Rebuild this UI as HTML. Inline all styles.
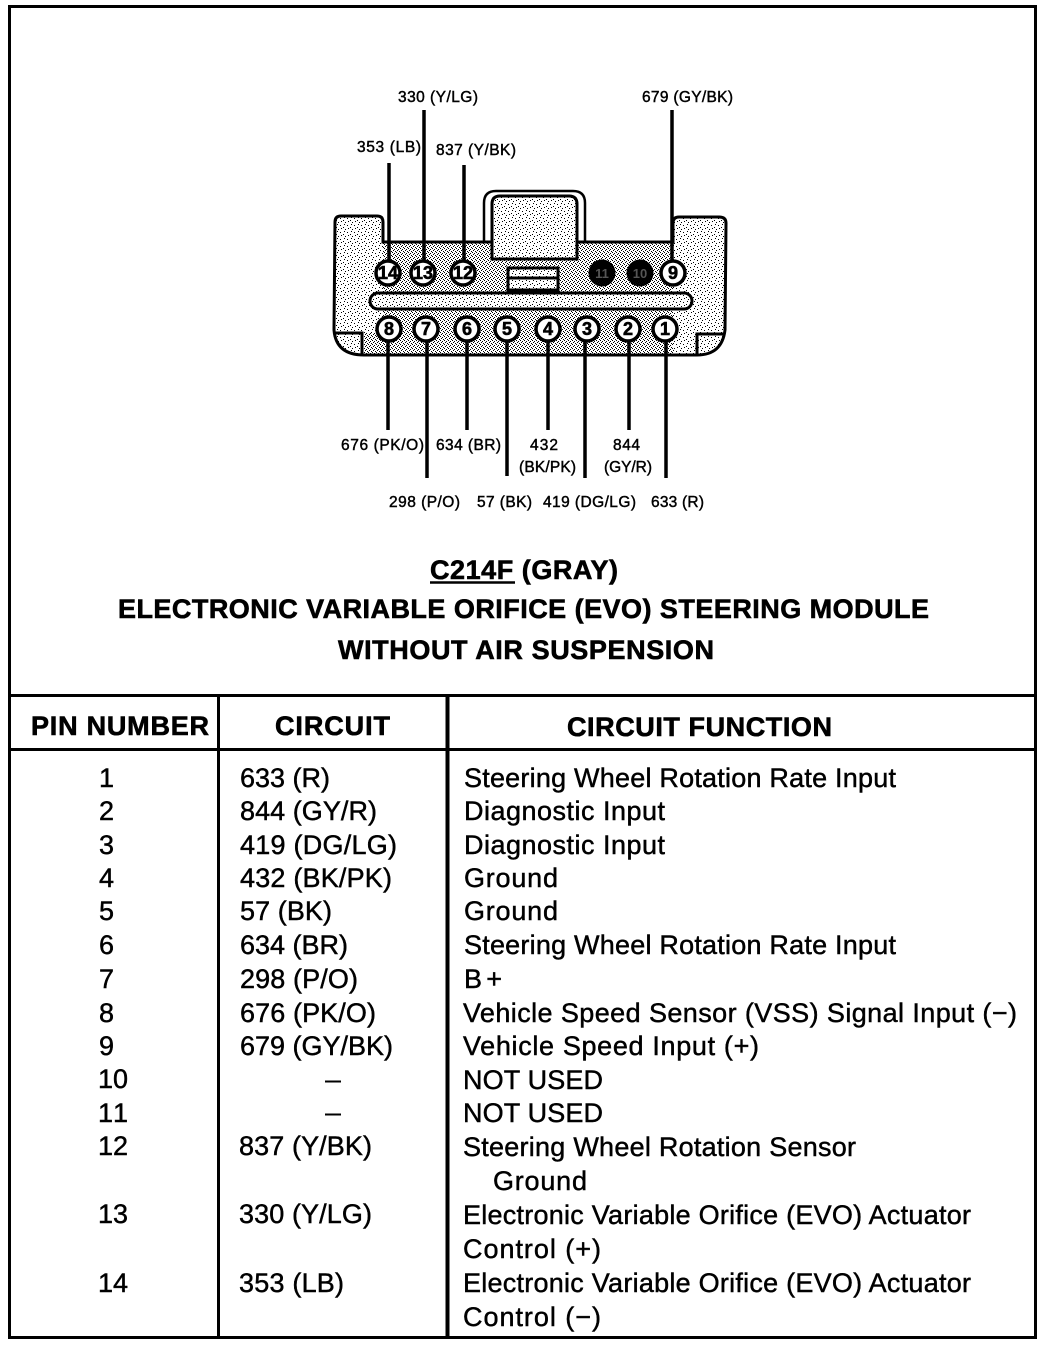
<!DOCTYPE html>
<html><head><meta charset="utf-8"><style>
html,body{margin:0;padding:0;background:#fff}
svg{display:block}
text{font-family:"Liberation Sans",sans-serif;fill:#000;stroke:#000;stroke-width:.45}
.b{font-size:27px}
.s{font-size:15.5px;stroke-width:.45}
.h{font-size:27px;font-weight:bold;stroke-width:.6}
.n{font-size:18px;font-weight:bold;text-anchor:middle;stroke-width:.6}
</style></head><body>
<svg width="1056" height="1346" viewBox="0 0 1056 1346" xmlns="http://www.w3.org/2000/svg">
<defs>
<pattern id="d" width="4" height="4" patternUnits="userSpaceOnUse">
<rect width="4" height="4" fill="#fff"/><rect x="0" y="0" width="1" height="1" fill="#000"/><rect x="2" y="1" width="1" height="1" fill="#000"/><rect x="1" y="2" width="1" height="1" fill="#000"/><rect x="3" y="3" width="1" height="1" fill="#000"/>
</pattern>
<pattern id="l" width="7" height="7" patternUnits="userSpaceOnUse">
<rect width="7" height="7" fill="#fff"/><rect x="1" y="0" width="1" height="1" fill="#000"/><rect x="4" y="1" width="1" height="1" fill="#000"/><rect x="0" y="3" width="1" height="1" fill="#000"/><rect x="5" y="4" width="1" height="1" fill="#000"/><rect x="2" y="5" width="1" height="1" fill="#000"/>
</pattern>
</defs>
<rect width="1056" height="1346" fill="#fff"/>
<!-- frame -->
<rect x="9.500" y="6.500" width="1026" height="1331" fill="none" stroke="#000" stroke-width="3"/>
<g stroke="#000" fill="none">
<path d="M9 695.500H1036" stroke-width="3"/>
<path d="M9 749.500H1036" stroke-width="3"/>
<path d="M218.500 695V1338" stroke-width="3"/>
<path d="M447.500 695V1338" stroke-width="4"/>
</g>
<!-- connector handle -->
<path d="M484 242V203Q484 191 496 191H573Q585 191 585 203V242Z" fill="#fff" stroke="#000" stroke-width="2.500"/>
<!-- connector body -->
<path d="M335 222Q335 216 341 216H377Q383 216 383 222V242H673V223Q673 217 679 217H719Q726 217 726 223L725 330Q722 355 697 355H364Q336 355 334 330Z" fill="url(#l)" stroke="none"/>
<path d="M383 242H673V355H364V333H383Z" fill="url(#d)"/>
<path d="M492 204V259H577V204Q577 196 569 196H500Q492 196 492 204Z" fill="url(#l)" stroke="none"/>
<path d="M335 222Q335 216 341 216H377Q383 216 383 222V242H492M577 242H673V223Q673 217 679 217H719Q726 217 726 223L725 330Q722 355 697 355H364Q336 355 334 330L335 222" fill="none" stroke="#000" stroke-width="3"/>
<path d="M492 204V259H577V204Q577 196 569 196H500Q492 196 492 204Z" fill="none" stroke="#000" stroke-width="3"/>
<path d="M335 333H362V355" fill="none" stroke="#000" stroke-width="3"/>
<path d="M697 355V334H725" fill="none" stroke="#000" stroke-width="3"/>
<!-- small rect -->
<rect x="508" y="268" width="50" height="22" fill="url(#l)" stroke="#000" stroke-width="3"/>
<path d="M508 278H558" stroke="#000" stroke-width="3"/>
<!-- slot -->
<rect x="370" y="293" width="322" height="16" rx="8" fill="url(#l)" stroke="#000" stroke-width="3"/>
<!-- leaders -->
<g stroke="#000" stroke-width="3.500" fill="none">
<path d="M389 163V262M424 110V262M464 165V262M672 110V262"/>
<path d="M388 340V430M427 340V478M467 340V430M507 340V476M548 340V430M585 340V478M629 340V430M666 340V478"/>
</g>
<!-- pins -->
<g fill="#fff" stroke="#000" stroke-width="3.500">
<circle cx="388" cy="273" r="12"/><circle cx="423" cy="273" r="12"/><circle cx="463" cy="273" r="12"/><circle cx="673" cy="273" r="12"/>
<circle cx="389" cy="329" r="12"/><circle cx="426" cy="329" r="12"/><circle cx="467" cy="329" r="12"/><circle cx="507" cy="329" r="12"/>
<circle cx="548" cy="329" r="12"/><circle cx="587" cy="329" r="12"/><circle cx="628" cy="329" r="12"/><circle cx="665" cy="329" r="12"/>
</g>
<circle cx="602" cy="273" r="13.500" fill="#000"/><circle cx="640" cy="273" r="13.500" fill="#000"/>
<text class="n" x="388" y="279">14</text><text class="n" x="423" y="279">13</text><text class="n" x="463" y="279">12</text>
<text class="n" x="602" y="278" style="font-size:13px;fill:#555;stroke:none">11</text><text class="n" x="640" y="278" style="font-size:13px;fill:#555;stroke:none">10</text>
<text class="n" x="673" y="279">9</text>
<text class="n" x="389" y="335">8</text><text class="n" x="426" y="335">7</text><text class="n" x="467" y="335">6</text><text class="n" x="507" y="335">5</text>
<text class="n" x="548" y="335">4</text><text class="n" x="587" y="335">3</text><text class="n" x="628" y="335">2</text><text class="n" x="665" y="335">1</text>
<!-- wire labels -->
<text class="s" x="398" y="102" textLength="80">330 (Y/LG)</text>
<text class="s" x="642" y="102" textLength="91">679 (GY/BK)</text>
<text class="s" x="357" y="152" textLength="64">353 (LB)</text>
<text class="s" x="436" y="155" textLength="80">837 (Y/BK)</text>
<text class="s" x="341" y="450" textLength="83">676 (PK/O)</text>
<text class="s" x="436" y="450" textLength="65">634 (BR)</text>
<text class="s" x="530" y="450" textLength="28">432</text>
<text class="s" x="519" y="472" textLength="57">(BK/PK)</text>
<text class="s" x="613" y="450" textLength="27">844</text>
<text class="s" x="604" y="472" textLength="48">(GY/R)</text>
<text class="s" x="389" y="507" textLength="71">298 (P/O)</text>
<text class="s" x="477" y="507" textLength="55">57 (BK)</text>
<text class="s" x="543" y="507" textLength="93">419 (DG/LG)</text>
<text class="s" x="651" y="507" textLength="53">633 (R)</text>
<!-- title -->
<text class="h" x="430" y="579" textLength="188">C214F (GRAY)</text>
<path d="M430 582.500H515" stroke="#000" stroke-width="2.500"/>
<text class="h" x="118" y="618" textLength="811">ELECTRONIC VARIABLE ORIFICE (EVO) STEERING MODULE</text>
<text class="h" x="338" y="659" textLength="376">WITHOUT AIR SUSPENSION</text>
<!-- headers -->
<text class="h" x="31" y="735" textLength="178">PIN NUMBER</text>
<text class="h" x="275" y="735" textLength="115">CIRCUIT</text>
<text class="h" x="567" y="736" textLength="265">CIRCUIT FUNCTION</text>
<!-- pin column -->
<text class="b" x="99" y="787">1</text>
<text class="b" x="99" y="820">2</text>
<text class="b" x="99" y="854">3</text>
<text class="b" x="99" y="887">4</text>
<text class="b" x="99" y="920">5</text>
<text class="b" x="99" y="954">6</text>
<text class="b" x="99" y="988">7</text>
<text class="b" x="99" y="1022">8</text>
<text class="b" x="99" y="1055">9</text>
<text class="b" x="98" y="1088" textLength="30">10</text>
<text class="b" x="98" y="1122" textLength="30">11</text>
<text class="b" x="98" y="1155" textLength="30">12</text>
<text class="b" x="98" y="1223" textLength="30">13</text>
<text class="b" x="98" y="1292" textLength="30">14</text>
<!-- circuit column -->
<text class="b" x="240" y="787" textLength="90">633 (R)</text>
<text class="b" x="240" y="820" textLength="137">844 (GY/R)</text>
<text class="b" x="240" y="854" textLength="157">419 (DG/LG)</text>
<text class="b" x="240" y="887" textLength="152">432 (BK/PK)</text>
<text class="b" x="240" y="920" textLength="92">57 (BK)</text>
<text class="b" x="240" y="954" textLength="108">634 (BR)</text>
<text class="b" x="240" y="988" textLength="118">298 (P/O)</text>
<text class="b" x="240" y="1022" textLength="136">676 (PK/O)</text>
<text class="b" x="240" y="1055" textLength="153">679 (GY/BK)</text>
<path d="M325 1081.500H341M325 1114.500H341" stroke="#000" stroke-width="2"/>
<text class="b" x="239" y="1155" textLength="133">837 (Y/BK)</text>
<text class="b" x="239" y="1223" textLength="133">330 (Y/LG)</text>
<text class="b" x="239" y="1292" textLength="105">353 (LB)</text>
<!-- function column -->
<text class="b" x="464" y="787" textLength="432">Steering Wheel Rotation Rate Input</text>
<text class="b" x="464" y="820" textLength="201">Diagnostic Input</text>
<text class="b" x="464" y="854" textLength="201">Diagnostic Input</text>
<text class="b" x="464" y="887" textLength="94">Ground</text>
<text class="b" x="464" y="920" textLength="94">Ground</text>
<text class="b" x="464" y="954" textLength="432">Steering Wheel Rotation Rate Input</text>
<text class="b" x="464" y="988" textLength="38">B+</text>
<text class="b" x="463" y="1022" textLength="554">Vehicle Speed Sensor (VSS) Signal Input (−)</text>
<text class="b" x="463" y="1055" textLength="296">Vehicle Speed Input (+)</text>
<text class="b" x="463" y="1089" textLength="140">NOT USED</text>
<text class="b" x="463" y="1122" textLength="140">NOT USED</text>
<text class="b" x="463" y="1156" textLength="393">Steering Wheel Rotation Sensor</text>
<text class="b" x="493" y="1190" textLength="94">Ground</text>
<text class="b" x="463" y="1224" textLength="508">Electronic Variable Orifice (EVO) Actuator</text>
<text class="b" x="463" y="1258" textLength="138">Control (+)</text>
<text class="b" x="463" y="1292" textLength="508">Electronic Variable Orifice (EVO) Actuator</text>
<text class="b" x="463" y="1326" textLength="138">Control (−)</text>
</svg>
</body></html>
